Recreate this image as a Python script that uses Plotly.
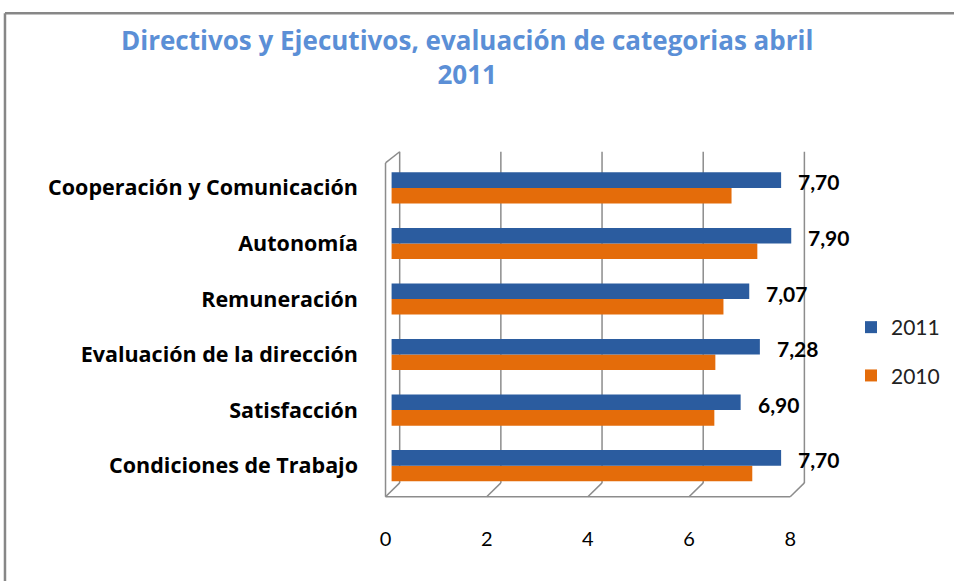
import plotly.graph_objects as go

# ---- data ----
categories = ["Condiciones de Trabajo", "Satisfacción", "Evaluación de la dirección",
              "Remuneración", "Autonomía", "Cooperación y Comunicación"]
values_2011 = [7.70, 6.90, 7.28, 7.07, 7.90, 7.70]
values_2010 = [7.13, 6.38, 6.40, 6.56, 7.23, 6.72]
tick_values = [0, 2, 4, 6, 8]
tick_labels = ["0", "2", "4", "6", "8"]
title_text = "Directivos y Ejecutivos, evaluación de categorias abril<br>2011"

# ---- layout geometry (pixels) ----
W, H = 954, 581
L, R = 384.4, 813.7
T, B = 149, 499.4
X_RANGE = [-0.15, 8.35]
Y_RANGE = [-0.6, 5.7]
BACK_DX, FRONT_DX = 0.16, -0.12     # 3D depth offsets (x units)
BACK_Y, FRONT_Y = -0.31, -0.56      # floor back/front (category units)
TOP_BACK, TOP_FRONT = 5.65, 5.45

BLUE = "#2B5C9F"
ORANGE = "#E46C0A"
GRID = "#8C8C8C"
FONT_TXT = "Open Sans"
FONT_NUM = "Lato"


def px_x(p):
    return (p - L) / (R - L)


def px_y(p):
    return (B - p) / (B - T)


fig = go.Figure()
fig.add_trace(go.Bar(y=categories, x=values_2010, orientation="h", name="2010",
                     marker=dict(color=ORANGE, line=dict(width=0)),
                     legendgroup="g2010", legendrank=2))
fig.add_trace(go.Bar(y=categories, x=values_2011, orientation="h", name="2011",
                     marker=dict(color=BLUE, line=dict(width=0)),
                     legendgroup="g2011", legendrank=1))

shapes = []
line_style = dict(color=GRID, width=1.5)
for v in tick_values:
    shapes.append(dict(type="line", xref="x", yref="y", x0=v + BACK_DX, x1=v + BACK_DX,
                       y0=BACK_Y, y1=TOP_BACK, line=line_style, layer="below"))
    shapes.append(dict(type="line", xref="x", yref="y", x0=v + BACK_DX, x1=v + FRONT_DX,
                       y0=BACK_Y, y1=FRONT_Y, line=line_style, layer="below"))
shapes.append(dict(type="line", xref="x", yref="y", x0=FRONT_DX, x1=tick_values[-1] + FRONT_DX,
                   y0=FRONT_Y, y1=FRONT_Y, line=line_style, layer="below"))
shapes.append(dict(type="line", xref="x", yref="y", x0=FRONT_DX, x1=FRONT_DX,
                   y0=FRONT_Y, y1=TOP_FRONT, line=line_style, layer="below"))
shapes.append(dict(type="line", xref="x", yref="y", x0=FRONT_DX, x1=BACK_DX,
                   y0=TOP_FRONT, y1=TOP_BACK, line=line_style, layer="below"))
# outer chart border (top and left)
border = dict(color="#878787", width=2.5)
shapes.append(dict(type="line", xref="paper", yref="paper", x0=px_x(6), x1=px_x(W + 5),
                   y0=px_y(13), y1=px_y(13), line=border))
shapes.append(dict(type="line", xref="paper", yref="paper", x0=px_x(6), x1=px_x(6),
                   y0=px_y(13), y1=px_y(H + 5), line=border))

annotations = []
for c, v in zip(categories, values_2011):
    annotations.append(dict(x=v, y=c, xref="x", yref="y", text=f"{v:.2f}".replace(".", ","),
                            showarrow=False, xanchor="left", yanchor="middle",
                            xshift=15, yshift=6,
                            font=dict(family=FONT_NUM, size=21, color="#000000", weight="bold")))
# chart title
annotations.append(dict(text=title_text, xref="paper", yref="paper",
                        x=px_x(467), y=px_y(56.5), xanchor="center", yanchor="middle",
                        showarrow=False, align="center",
                        font=dict(family=FONT_TXT, size=26, color="#5B8FD6", weight="bold")))

fig.update_layout(
    width=W, height=H,
    margin=dict(l=L, r=W - R, t=T, b=H - B, pad=0, autoexpand=False),
    paper_bgcolor="white", plot_bgcolor="white",
    barmode="group", bargap=0.44, bargroupgap=0,
    xaxis=dict(range=X_RANGE, showgrid=False, zeroline=False, showline=False, automargin=False,
               tickvals=[v + FRONT_DX for v in tick_values], ticktext=tick_labels,
               ticks="", ticklabelstandoff=26,
               tickfont=dict(family=FONT_NUM, size=20, color="#000000")),
    yaxis=dict(range=Y_RANGE, showgrid=False, zeroline=False, showline=False, automargin=False,
               ticks="", ticklabelstandoff=25, categoryorder="array", categoryarray=categories,
               tickfont=dict(family=FONT_TXT, size=21.5, color="#000000", weight="bold")),
    legend=dict(xref="container", yref="container", x=851 / W, y=1 - 307 / H,
                xanchor="left", yanchor="top",
                traceorder="grouped", tracegroupgap=18, itemsizing="constant",
                font=dict(family=FONT_NUM, size=21, color="#222222"),
                bgcolor="rgba(0,0,0,0)"),
    shapes=shapes,
    annotations=annotations,
    showlegend=True,
)

fig.write_html("out.html", config={"displayModeBar": False},
               post_script="document.body.style.margin='0';document.body.style.overflow='hidden';")
